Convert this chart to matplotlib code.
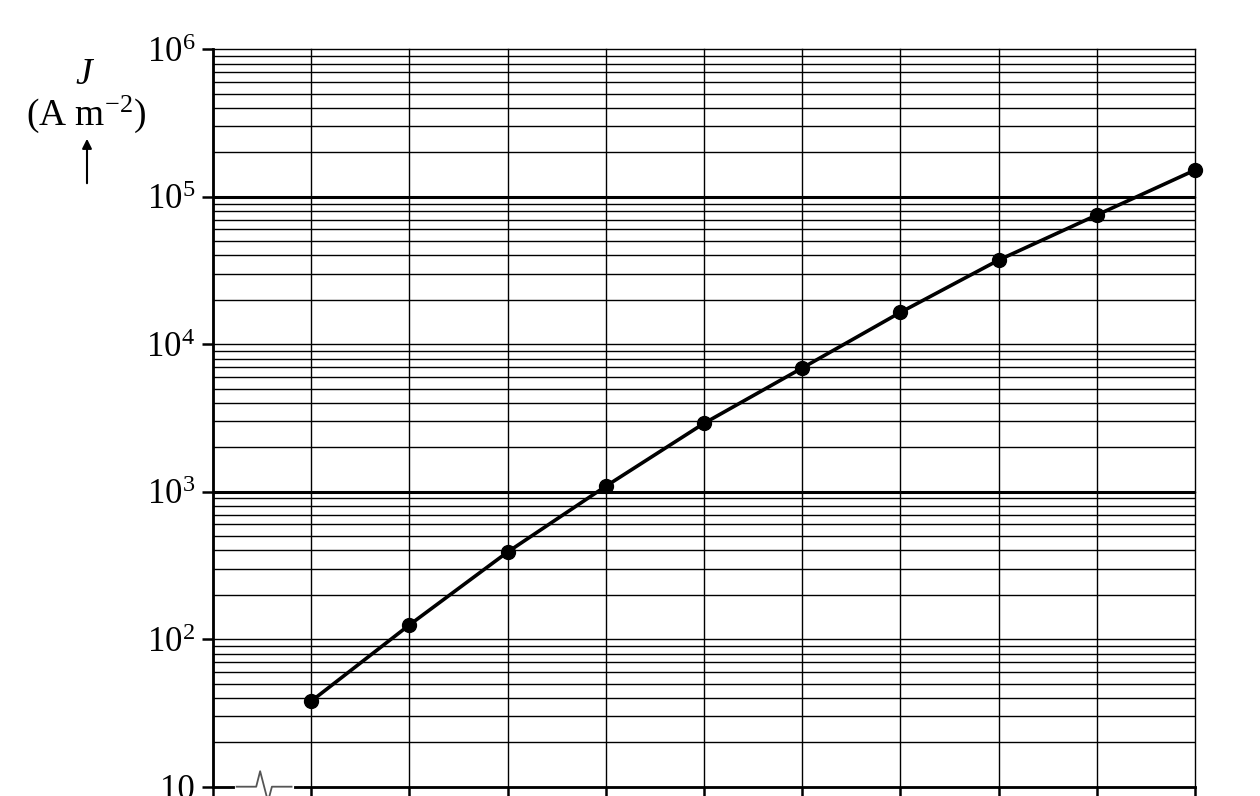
import numpy as np
import matplotlib
matplotlib.use('Agg')
from matplotlib import pyplot as plt
from matplotlib.ticker import LogLocator, NullFormatter, FixedLocator

plt.rcParams['font.family'] = ['Liberation Serif', 'DejaVu Serif']
plt.rcParams['mathtext.fontset'] = 'custom'
plt.rcParams['mathtext.rm'] = 'Liberation Serif'
plt.rcParams['mathtext.it'] = 'Liberation Serif:italic'

# data
x_vals = [1, 2, 3, 4, 5, 6, 7, 8, 9, 10]
j_vals = [38, 125, 390, 1090, 2910, 6900, 16450, 37200, 75200, 151700]

y_ticks = [10, 1e2, 1e3, 1e4, 1e5, 1e6]
y_labels = ['10', '$10^{2}$', '$10^{3}$', '$10^{4}$', '$10^{5}$', '$10^{6}$']
thick_decades = [1e3, 1e5]

fig = plt.figure(figsize=(12.6, 7.96), dpi=100)
ax = fig.add_axes([213/1260, 9.3/796, 982/1260, 737.4/796])

ax.set_yscale('log')
ax.set_ylim(10, 1e6)
ax.set_xlim(0, 10)

# grid: log lines, vertical lines every unit
ax.yaxis.set_major_locator(FixedLocator(y_ticks))
ax.yaxis.set_minor_locator(LogLocator(base=10, subs=np.arange(2, 10)))
ax.yaxis.set_minor_formatter(NullFormatter())
ax.set_yticklabels(y_labels)
ax.set_xticks(np.arange(0, 11))
ax.grid(True, which='major', axis='y', color='black', lw=1.0)
ax.grid(True, which='minor', axis='y', color='black', lw=1.0)
ax.grid(True, which='major', axis='x', color='black', lw=1.0)
for gl in ax.get_xgridlines() + ax.get_ygridlines():
    gl.set_clip_on(False)
for yv in thick_decades:
    ax.axhline(yv, color='black', lw=2.2, zorder=2)

ax.tick_params(axis='y', which='major', direction='out', length=8, width=1.8,
               labelsize=25, pad=5)
ax.tick_params(axis='y', which='minor', length=0)
ax.tick_params(axis='x', direction='out', length=9, width=1.8, labelbottom=False)

for s in ['top', 'right']:
    ax.spines[s].set_visible(False)
for s in ['left', 'bottom']:
    ax.spines[s].set_linewidth(2.0)

ax.plot(x_vals, j_vals, color='black', lw=2.6, marker='o', ms=10,
        solid_capstyle='round', zorder=5, clip_on=False)

# axis break on the x axis
ax.plot([0.24, 0.80], [0, 0], color='white', lw=3, transform=ax.get_xaxis_transform(),
        clip_on=False, zorder=6)
ax.plot([0.24, 0.44, 0.48, 0.56, 0.60, 0.80], [0, 0, 0.021, -0.02, 0, 0],
        color='#555555', lw=1.3, transform=ax.get_xaxis_transform(),
        clip_on=False, zorder=7)

# y label with arrow
fig.text(85/1260, 1 - 84/796, '$J$', ha='center', va='baseline', fontsize=27)
fig.text(86/1260, 1 - 125/796, '(A m$^{-2}$)', ha='center', va='baseline', fontsize=27)
fig.add_artist(matplotlib.patches.FancyArrowPatch(
    (87/1260, 1 - 186/796), (87/1260, 1 - 136/796), transform=fig.transFigure,
    arrowstyle='-|>', mutation_scale=14, lw=1.5, color='black'))

fig.savefig('out.png', dpi=100)
